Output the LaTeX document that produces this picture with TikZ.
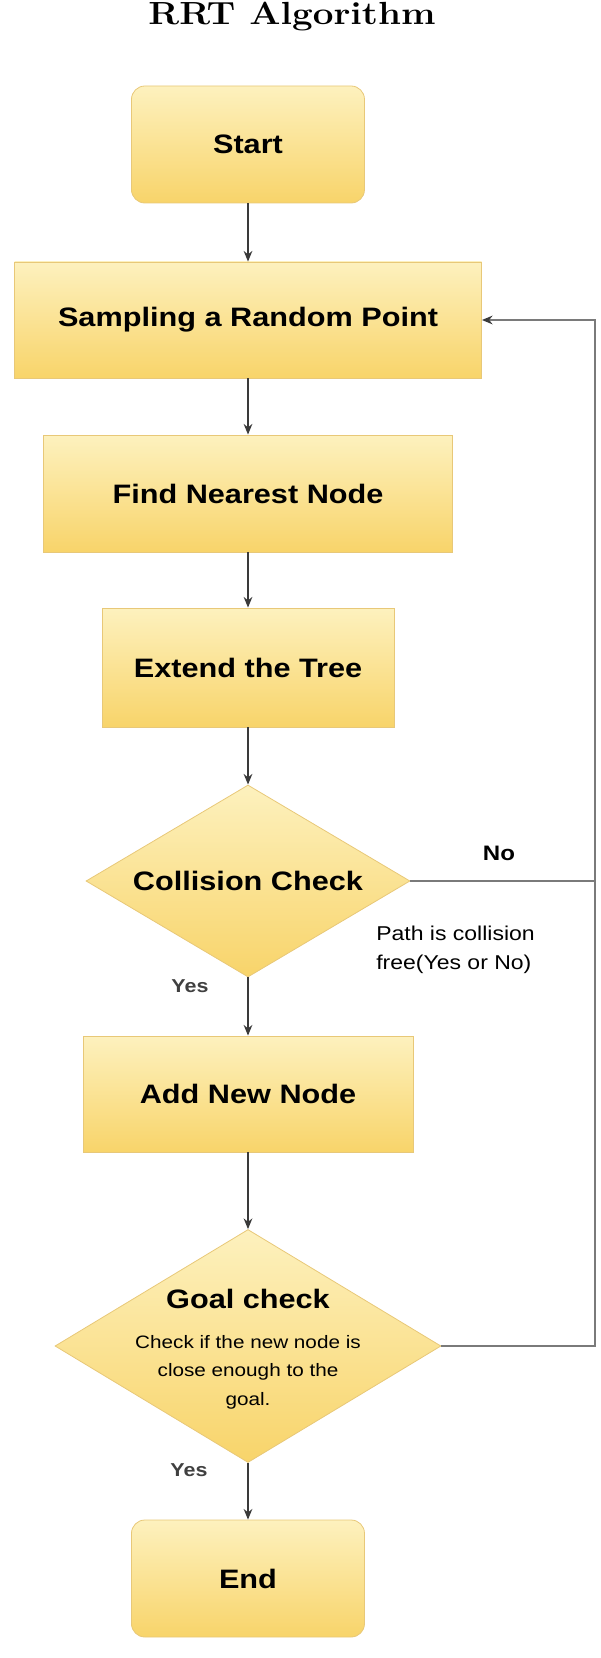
\documentclass[tikz,border=0pt]{standalone}
\usepackage{graphicx}
\usepackage{fontspec}
\newfontfamily\lsans[FakeStretch=1.15]{Liberation Sans}
\usetikzlibrary{shapes.geometric,arrows.meta}
\definecolor{ytop}{HTML}{FDF1BE}
\definecolor{ybot}{HTML}{F8D46A}
\definecolor{yedge}{HTML}{E8C878}
\definecolor{arr}{HTML}{3A3A3A}
\definecolor{fb}{HTML}{7A7A7A}
\begin{document}
\begin{tikzpicture}[x=0.75pt,y=-0.75pt,
  box/.style={draw=yedge, line width=0.6pt, top color=ytop, bottom color=ybot,
    font=\lsans\bfseries\fontsize{20}{24}\selectfont, inner sep=0pt},
  rbox/.style={box, rounded corners=10pt},
  decision/.style={box, diamond, aspect=1.6},
  tipstyle/.style={-{Stealth[length=8pt,width=6.5pt,color=arr]}},
  flow/.style={draw=arr, line width=1.5pt, tipstyle},
  back/.style={draw=fb, line width=1.4pt},
  lbl/.style={font=\lsans\bfseries\fontsize{14}{17}\selectfont, text=black!75}
]
\useasboundingbox (0,0) rectangle (600,1658);

\node[font=\bfseries\fontsize{24}{28}\selectfont, anchor=base] (title) at (292,25) {\scalebox{1.15}[1]{RRT Algorithm}};

\node[rbox, minimum width=174.75pt, minimum height=87.75pt] (start) at (248,144.5) {Start};
\node[box, minimum width=350.25pt, minimum height=87pt] (samp) at (248,320) {Sampling a Random Point};
\node[box, minimum width=306.75pt, minimum height=87.75pt] (find) at (248,493.5) {Find Nearest Node};
\node[box, minimum width=219pt, minimum height=89.25pt] (ext) at (248,667.5) {Extend the Tree};
\node[decision, minimum width=243pt, minimum height=144pt] (coll) at (248,881) {Collision Check};
\node[box, minimum width=247.5pt, minimum height=87pt] (add) at (248,1094) {Add New Node};
\node[decision, minimum width=289.5pt, minimum height=174.75pt] (goal) at (248,1346) {};
\node[rbox, minimum width=174.75pt, minimum height=87.75pt] (end) at (248,1578.5) {End};

\node[align=center, font=\lsans\fontsize{13.5}{21.4}\selectfont, inner sep=0pt] (goaltxt) at (248,1349)
  {{\bfseries\fontsize{20}{24}\selectfont Goal check}\\[8.5pt] Check if the new node is\\ close enough to the\\ goal.};

\draw[flow] (start) -- (samp);
\draw[flow] (samp) -- (find);
\draw[flow] (find) -- (ext);
\draw[flow] (ext) -- (coll);
\draw[flow] (coll) -- (add);
\draw[flow] (add) -- (goal);
\draw[flow] (goal) -- (end);

\coordinate (rail) at (595,1346);
\draw[back, tipstyle] (goal.east) -- (rail) |- (samp.east);
\draw[back] (coll.east) -- (coll.east -| rail);

\node[font=\lsans\bfseries\fontsize{15.7}{18}\selectfont] (no) at (499,853) {No};
\node[font=\lsans\fontsize{15}{21.75}\selectfont, align=left, anchor=west, inner sep=0pt] (path) at (376,950) {Path is collision\\free(Yes or No)};
\node[lbl] (yes1) at (190,986) {Yes};
\node[lbl] (yes2) at (189,1470) {Yes};
\end{tikzpicture}
\end{document}
